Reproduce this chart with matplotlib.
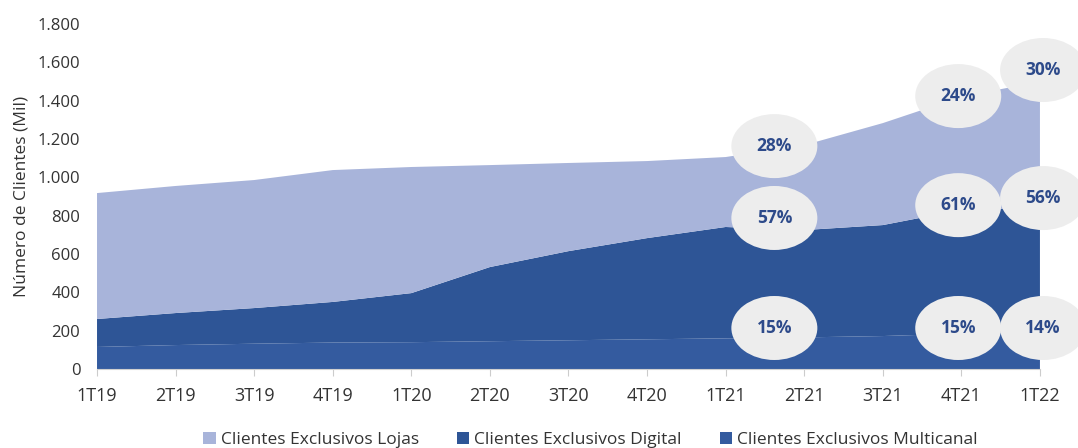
import matplotlib
matplotlib.use("Agg")
import matplotlib.pyplot as plt
from matplotlib.patches import Ellipse
import numpy as np

plt.rcParams['font.family'] = ['Open Sans', 'DejaVu Sans']

quarters = ["1T19", "2T19", "3T19", "4T19", "1T20", "2T20", "3T20", "4T20",
            "1T21", "2T21", "3T21", "4T21", "1T22"]
multicanal = [115, 125, 132, 138, 140, 145, 150, 155, 160, 165, 172, 185, 195]
digital_top = [261, 292, 318, 350, 396, 532, 615, 683, 741, 725, 751, 830, 840]
total = [918, 955, 986, 1038, 1054, 1064, 1075, 1085, 1106, 1168, 1283, 1420, 1500]
digital = [d - m for d, m in zip(digital_top, multicanal)]
lojas = [t - d for t, d in zip(total, digital_top)]

# percentage callouts: (x position in quarter index units, y, label)
pct_x = [8.62, 8.62, 8.62, 10.96, 10.96, 10.96, 12.04, 12.04, 12.04]
pct_y = [1163, 788, 214, 1424, 855, 214, 1560, 892, 214]
pct_labels = ["28%", "57%", "15%", "24%", "61%", "15%", "30%", "56%", "14%"]

c_lojas = "#a8b4da"
c_digital = "#2e5596"
c_multi = "#345b9f"

fig = plt.figure(figsize=(10.78, 4.48), dpi=100)
ax = fig.add_axes([0.090, 0.1763, 0.8747, 0.7701])
x = np.arange(len(quarters))
ax.stackplot(x, multicanal, digital, lojas,
             colors=[c_multi, c_digital, c_lojas],
             labels=["Clientes Exclusivos Multicanal", "Clientes Exclusivos Digital",
                     "Clientes Exclusivos Lojas"], linewidth=0)

ax.set_xlim(0, len(quarters) - 1)
ax.set_ylim(0, 1800)
ax.set_yticks(range(0, 1801, 200))
ax.set_yticklabels([f"{v:,}".replace(",", ".") for v in range(0, 1801, 200)],
                   fontsize=12, color="#333333")
ax.set_xticks(x)
ax.set_xticklabels(quarters, fontsize=13, color="#333333")
ax.tick_params(axis='y', length=0, pad=12)
ax.tick_params(axis='x', length=5, color="#cccccc", pad=8)
for s in ["top", "right", "left"]:
    ax.spines[s].set_visible(False)
ax.spines["bottom"].set_color("#d0d0d0")
ax.set_ylabel("Número de Clientes (Mil)", fontsize=12.5, color="#333333", labelpad=6)

# bubbles
px_per_x = (1040 - 97) / 12
px_per_y = 345 / 1800
for bx, by, lab in zip(pct_x, pct_y, pct_labels):
    w = 86 / px_per_x
    h = 64 / px_per_y
    e = Ellipse((bx, by), w, h, facecolor="#ededed", edgecolor="none",
                clip_on=False, zorder=5)
    ax.add_patch(e)
    ax.text(bx, by, lab, ha="center", va="center", fontsize=12.5,
            fontweight="bold", color="#2d4a8a", zorder=6, clip_on=False)

handles, labels = ax.get_legend_handles_labels()
order = [2, 1, 0]
leg = fig.legend([handles[i] for i in order], [labels[i] for i in order],
                 loc="lower center", bbox_to_anchor=(0.548, -0.035), ncol=3,
                 frameon=False, fontsize=12.5, handlelength=0.7, handleheight=0.7,
                 handletextpad=0.3, columnspacing=2.2)
for t in leg.get_texts():
    t.set_color("#333333")

fig.savefig("out.png", dpi=100)
